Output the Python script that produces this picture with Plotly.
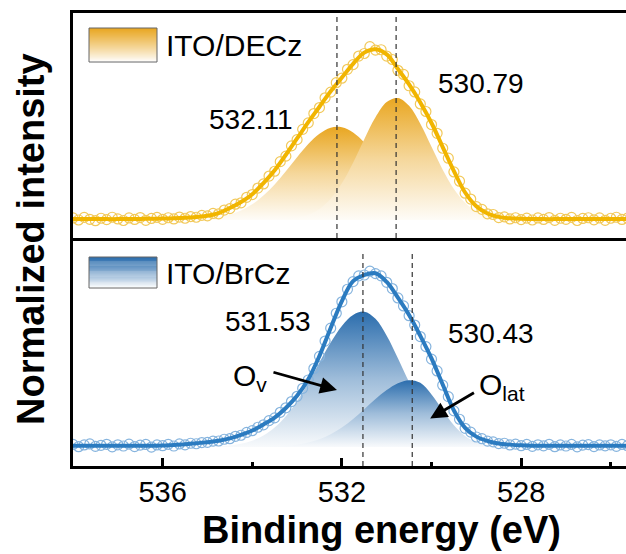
import numpy as np
import plotly.graph_objects as go

# ---------------- data ----------------
# fitted envelopes, 538.0 -> 525.5 eV in 0.25 eV steps
fit_top = [
    0.005, 0.005, 0.005, 0.005,
    0.005, 0.006, 0.006, 0.007,
    0.008, 0.010, 0.013, 0.018,
    0.025, 0.040, 0.070, 0.105,
    0.150, 0.215, 0.290, 0.380,
    0.475, 0.570, 0.660, 0.750,
    0.830, 0.910, 0.975, 0.995,
    0.965, 0.880, 0.790, 0.685,
    0.565, 0.425, 0.285, 0.160,
    0.080, 0.038, 0.018, 0.010,
    0.007, 0.006, 0.005, 0.005,
    0.005, 0.005, 0.005, 0.005,
    0.005, 0.005, 0.005]
fit_bottom = [
    0.008, 0.008, 0.008, 0.008,
    0.008, 0.008, 0.008, 0.008,
    0.009, 0.012, 0.016, 0.022,
    0.028, 0.036, 0.050, 0.070,
    0.095, 0.130, 0.170, 0.225,
    0.295, 0.390, 0.525, 0.685,
    0.840, 0.955, 0.990, 1.000,
    0.950, 0.860, 0.760, 0.640,
    0.510, 0.360, 0.210, 0.110,
    0.060, 0.035, 0.020, 0.014,
    0.010, 0.008, 0.008, 0.008,
    0.008, 0.008, 0.008, 0.008,
    0.008, 0.008, 0.008]

# measured points, 538.0 -> 525.5 eV in 0.125 eV steps
data_top = [
    0.012, 0.000, 0.015, 0.004, -0.004, 0.010, 0.002, 0.016,
    0.006, -0.003, 0.012, 0.003, 0.014, -0.002, 0.009, 0.015,
    0.004, 0.013, 0.006, 0.017, 0.010, 0.020, 0.016, 0.027,
    0.024, 0.038, 0.036, 0.058, 0.066, 0.092, 0.100, 0.132,
    0.148, 0.186, 0.210, 0.256, 0.284, 0.340, 0.372, 0.432,
    0.468, 0.528, 0.566, 0.620, 0.655, 0.712, 0.745, 0.800,
    0.826, 0.878, 0.905, 0.955, 0.970, 1.010, 0.990, 0.992,
    0.955, 0.935, 0.872, 0.848, 0.782, 0.746, 0.676, 0.632,
    0.556, 0.505, 0.418, 0.360, 0.280, 0.226, 0.156, 0.122,
    0.078, 0.062, 0.036, 0.032, 0.014, 0.018, 0.006, 0.013,
    0.002, 0.011, 0.000, 0.012, 0.003, 0.014, -0.002, 0.010,
    0.004, 0.015, -0.003, 0.009, 0.013, 0.001, 0.012, -0.002,
    0.010, 0.016, 0.003, 0.011, 0.005]
data_bottom = [
    0.015, 0.002, 0.012, 0.018, 0.004, 0.010, 0.016, 0.001,
    0.013, 0.006, 0.017, 0.003, 0.011, 0.015, 0.000, 0.012,
    0.008, 0.016, 0.006, 0.018, 0.013, 0.022, 0.019, 0.026,
    0.027, 0.034, 0.035, 0.045, 0.048, 0.062, 0.068, 0.084,
    0.094, 0.114, 0.128, 0.152, 0.168, 0.200, 0.226, 0.262,
    0.292, 0.338, 0.386, 0.452, 0.522, 0.610, 0.684, 0.770,
    0.836, 0.908, 0.952, 0.985, 0.990, 1.012, 0.998, 0.985,
    0.948, 0.912, 0.858, 0.812, 0.756, 0.702, 0.636, 0.578,
    0.506, 0.438, 0.356, 0.290, 0.208, 0.160, 0.108, 0.086,
    0.058, 0.048, 0.034, 0.030, 0.020, 0.022, 0.012, 0.017,
    0.008, 0.015, 0.004, 0.013, 0.007, 0.016, 0.002, 0.012,
    0.006, 0.015, 0.001, 0.011, 0.014, 0.003, 0.012, 0.007,
    0.013, 0.004, 0.015, 0.008, 0.010]

# fitted components, 535.5 -> 527.5 eV in 0.25 eV steps
comp_top_532 = [0.002, 0.004, 0.008, 0.017, 0.031, 0.055, 0.091, 0.142, 0.207, 0.284,
                0.365, 0.442, 0.503, 0.538, 0.540, 0.509, 0.451, 0.375, 0.293, 0.215,
                0.149, 0.096, 0.059, 0.034, 0.018, 0.009, 0.004, 0.002, 0.001, 0.0,
                0.0, 0.0, 0.0]
comp_top_530 = [0.0, 0.0, 0.0, 0.0, 0.0, 0.0, 0.0, 0.001, 0.002, 0.005,
                0.013, 0.030, 0.064, 0.124, 0.214, 0.334, 0.471, 0.598, 0.687, 0.711,
                0.665, 0.560, 0.426, 0.293, 0.181, 0.101, 0.051, 0.023, 0.010, 0.004,
                0.001, 0.0, 0.0]
comp_bot_531 = [0.0, 0.001, 0.002, 0.004, 0.009, 0.019, 0.037, 0.066, 0.112, 0.177,
                0.264, 0.370, 0.487, 0.601, 0.697, 0.760, 0.779, 0.738, 0.641, 0.511,
                0.374, 0.251, 0.154, 0.087, 0.045, 0.021, 0.009, 0.004, 0.002, 0.0,
                0.0, 0.0, 0.0]
comp_bot_530 = [0.0, 0.0, 0.0, 0.0, 0.0, 0.0, 0.001, 0.002, 0.004, 0.007,
                0.014, 0.026, 0.045, 0.074, 0.113, 0.162, 0.218, 0.276, 0.328, 0.367,
                0.385, 0.370, 0.303, 0.212, 0.125, 0.063, 0.027, 0.010, 0.003, 0.001,
                0.0, 0.0, 0.0]

peaks_top = [532.11, 530.79]
peaks_bottom = [531.53, 530.43]
sample_labels = ["ITO/DECz", "ITO/BrCz"]
x_major_ticks = [536, 532, 528]
x_minor_ticks = [534, 530, 526]

fit_x = 538.0 - 0.25 * np.arange(len(fit_top))
data_x = 538.0 - 0.125 * np.arange(len(data_top))
comp_x = 535.5 - 0.25 * np.arange(len(comp_top_532))

# ---------------- style ----------------
FONT = "Liberation Sans, Arial, sans-serif"
W, H = 626, 554
ML, MR, MT, MB = 73, 0, 13, 88
SPLIT_PX = 238
plot_h = H - MT - MB
d_split = (H - MB - SPLIT_PX) / plot_h

top_line, top_fill, top_mark = "#F1B500", "#E9A722", "#F2C95A"
bot_line, bot_fill, bot_mark = "#2B7BC0", "#2B6DAD", "#86B4DE"


def blend(col, f):
    r, g, b = int(col[1:3], 16), int(col[3:5], 16), int(col[5:7], 16)
    return "rgb(%d,%d,%d)" % (255 + (r - 255) * f, 255 + (g - 255) * f, 255 + (b - 255) * f)


fig = go.Figure()


def add_panel(xa, ya, comps, data, fit, fill_col, line_col, mark_col):
    for c in comps:
        fig.add_trace(go.Scatter(
            x=comp_x, y=c, mode="lines", line=dict(width=0, shape="spline", color=fill_col),
            fill="tozeroy",
            fillgradient=dict(type="vertical", start=0, stop=max(c),
                              colorscale=[[0, blend(fill_col, 0.03)], [0.5, blend(fill_col, 0.45)],
                                          [1, fill_col]]),
            xaxis=xa, yaxis=ya, showlegend=False, hoverinfo="skip"))
    fig.add_trace(go.Scatter(
        x=data_x, y=data, mode="markers",
        marker=dict(symbol="circle-open", size=10, color=mark_col, line=dict(width=1.2)),
        xaxis=xa, yaxis=ya, showlegend=False))
    fig.add_trace(go.Scatter(
        x=fit_x, y=fit, mode="lines", line=dict(color=line_col, width=4, shape="spline"),
        xaxis=xa, yaxis=ya, showlegend=False))


add_panel("x2", "y2", [comp_top_532, comp_top_530], data_top, fit_top, top_fill, top_line, top_mark)
add_panel("x", "y", [comp_bot_531, comp_bot_530], data_bottom, fit_bottom, bot_fill, bot_line, bot_mark)

shapes = []
for p in peaks_top:
    shapes.append(dict(type="line", xref="x", yref="y2 domain", x0=p, x1=p, y0=0, y1=1,
                       line=dict(color="#333333", width=1.2, dash="5px,4px")))
for p in peaks_bottom:
    shapes.append(dict(type="line", xref="x", yref="y", x0=p, x1=p, y0=-0.109, y1=1.13,
                       line=dict(color="#333333", width=1.2, dash="5px,4px")))


def px2paper(px, py):
    return (px - ML) / (W - ML - MR), (H - MB - py) / plot_h


def gradient_box(x0p, x1p, y0p, y1p, col, n=34):
    xa, ytop = px2paper(x0p, y0p)
    xb, ybot = px2paper(x1p, y1p)
    for i in range(n):
        t = 1 - i / (n - 1)  # 1 at top
        ya = ytop - (ytop - ybot) * i / n
        yb = ytop - (ytop - ybot) * (i + 1.3) / n
        shapes.append(dict(type="rect", xref="paper", yref="paper", x0=xa, x1=xb,
                           y0=max(yb, ybot), y1=ya,
                           line=dict(width=0), fillcolor=blend(col, t ** 0.9), layer="above"))
    shapes.append(dict(type="rect", xref="paper", yref="paper", x0=xa, x1=xb, y0=ybot, y1=ytop,
                       line=dict(width=1, color="#666666"), layer="above"))


gradient_box(89, 157, 28, 62, top_fill)
gradient_box(89, 157, 257, 288, bot_fill)

ann = []
tf = dict(family=FONT, size=28, color="black")
for (px, py), txt in zip([(164, 45), (164, 273)], sample_labels):
    xp, yp = px2paper(px, py)
    ann.append(dict(xref="paper", yref="paper", x=xp, y=yp, text=txt, showarrow=False,
                    xanchor="left", yanchor="middle", font=dict(family=FONT, size=30, color="black")))

# peak value labels
ann.append(dict(xref="x", yref="y2", x=534.02, y=0.588, text=f"{peaks_top[0]:.2f}", showarrow=False, font=tf))
ann.append(dict(xref="x", yref="y2", x=528.89, y=0.798, text=f"{peaks_top[1]:.2f}", showarrow=False, font=tf))
ann.append(dict(xref="x", yref="y", x=533.64, y=0.72, text=f"{peaks_bottom[0]:.2f}", showarrow=False, font=tf))
ann.append(dict(xref="x", yref="y", x=528.67, y=0.656, text=f"{peaks_bottom[1]:.2f}", showarrow=False, font=tf))

# O_v and O_lat labels with arrows
ann.append(dict(xref="x", yref="y", x=534.05, y=0.40, text="O<sub>v</sub>", showarrow=False,
                font=dict(family=FONT, size=30, color="black")))
ann.append(dict(xref="x", yref="y", x=528.42, y=0.35, text="O<sub>lat</sub>", showarrow=False,
                font=dict(family=FONT, size=30, color="black")))
ann.append(dict(xref="x", yref="y", x=532.11, y=0.328, axref="x", ayref="y", ax=533.56, ay=0.433,
                text="", showarrow=True, arrowhead=2, arrowsize=1.2, arrowwidth=2.8, arrowcolor="black"))
ann.append(dict(xref="x", yref="y", x=530.03, y=0.165, axref="x", ayref="y", ax=529.02, ay=0.318,
                text="", showarrow=True, arrowhead=2, arrowsize=1.2, arrowwidth=2.8, arrowcolor="black"))

# axis titles
ann.append(dict(xref="paper", yref="paper", x=px2paper(381, 0)[0], y=px2paper(0, 530)[1],
                text="Binding energy (eV)", showarrow=False, xanchor="center", yanchor="middle",
                font=dict(family=FONT, size=38, color="black", weight="bold")))
ann.append(dict(xref="paper", yref="paper", x=px2paper(31, 0)[0], y=px2paper(0, 239)[1],
                text="Normalized intensity", showarrow=False, textangle=-90,
                xanchor="center", yanchor="middle",
                font=dict(family=FONT, size=38, color="black", weight="bold")))

axis_common = dict(showgrid=False, zeroline=False)
fig.update_layout(
    width=W, height=H, margin=dict(l=ML, r=MR, t=MT, b=MB),
    paper_bgcolor="white", plot_bgcolor="white", showlegend=False,
    xaxis=dict(domain=[0, 1], range=[538, 525.66], anchor="y", showline=True, linewidth=3,
               linecolor="black", ticks="inside", ticklen=8, tickwidth=2.5, tickcolor="black",
               tickmode="array", tickvals=x_major_ticks, ticktext=[str(t) for t in x_major_ticks],
               tickfont=dict(family=FONT, size=29, color="black"), ticklabelstandoff=-2,
               minor=dict(tickmode="array", tickvals=x_minor_ticks, ticks="inside", ticklen=4,
                          tickwidth=2.5, tickcolor="black", showgrid=False),
               **axis_common),
    xaxis2=dict(domain=[0, 1], matches="x", anchor="y2", showline=True, mirror=True, linewidth=3,
                linecolor="black", ticks="", showticklabels=False, **axis_common),
    yaxis=dict(domain=[0, d_split], range=[-0.109, 1.203], showline=True, linewidth=3,
               linecolor="black", ticks="", showticklabels=False, **axis_common),
    yaxis2=dict(domain=[d_split, 1], range=[-0.105, 1.206], showline=True, linewidth=3,
                linecolor="black", ticks="", showticklabels=False, **axis_common),
    shapes=shapes, annotations=ann,
)

fig.write_html("out.html")
